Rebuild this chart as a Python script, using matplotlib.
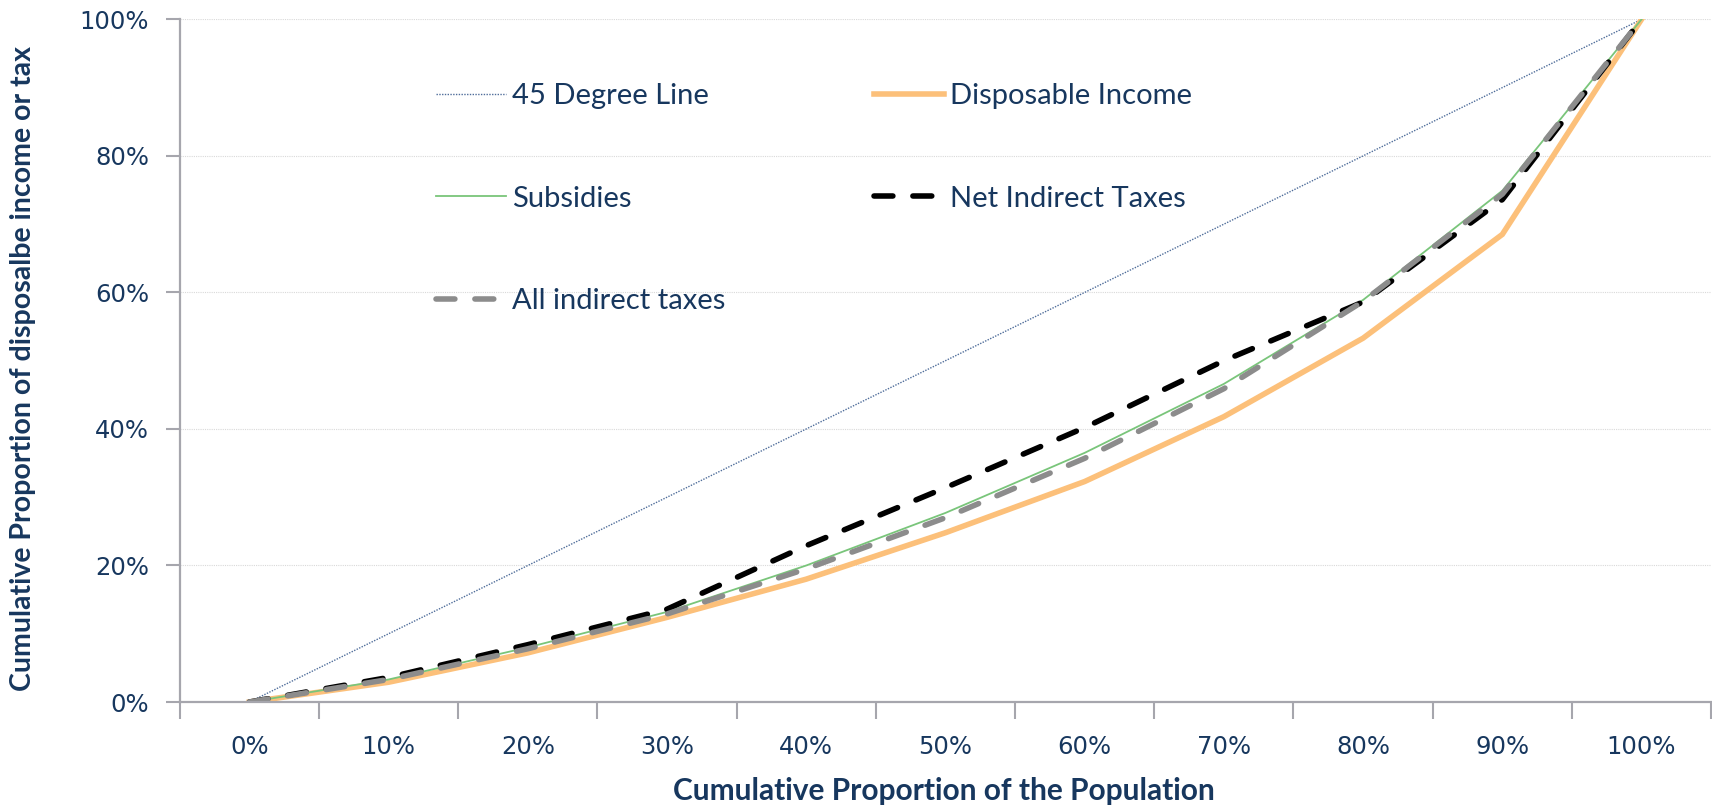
import matplotlib
matplotlib.use("Agg")
import matplotlib.pyplot as plt
import numpy as np

categories = ["0%", "10%", "20%", "30%", "40%", "50%", "60%", "70%", "80%", "90%", "100%"]
degree45 = [0, 10, 20, 30, 40, 50, 60, 70, 80, 90, 100]
disposable_income = [0, 2.9, 7.2, 12.4, 18.0, 24.8, 32.3, 41.8, 53.3, 68.5, 100]
subsidies = [0, 3.3, 8.0, 13.2, 20.0, 27.7, 36.5, 46.6, 58.9, 74.9, 100]
net_indirect = [0, 3.6, 8.4, 13.6, 22.9, 31.4, 40.2, 50.0, 58.6, 73.6, 100]
all_indirect = [0, 3.3, 7.8, 12.9, 19.5, 27.0, 35.7, 45.9, 58.7, 74.4, 100]
y_ticks = [0, 20, 40, 60, 80, 100]
y_ticklabels = ["0%", "20%", "40%", "60%", "80%", "100%"]

navy = "#17375E"
spine_c = "#A6A6AD"

fig = plt.figure(figsize=(17.12, 8.06), dpi=100)
ax = fig.add_axes([0.105, 0.129, 0.8945, 0.847])

x = np.arange(len(categories))
l45, = ax.plot(x, degree45, color="#4F6D9A", lw=1.0, ls=(0, (1, 1)), label="45 Degree Line")
ldi, = ax.plot(x, disposable_income, color="#FCC07A", lw=4.0, solid_joinstyle="miter",
               label="Disposable Income")
lsu, = ax.plot(x, subsidies, color="#79C57A", lw=1.3, label="Subsidies")
lni, = ax.plot(x, net_indirect, color="black", lw=4.0, dashes=(3.4, 3.6),
               dash_capstyle="round", label="Net Indirect Taxes")
lai, = ax.plot(x, all_indirect, color="#8C8C8C", lw=4.0, dashes=(3.4, 3.6),
               dash_capstyle="round", label="All indirect taxes")

ax.set_xlim(-0.5, len(categories) - 0.5)
ax.set_ylim(0, 100)
ax.set_yticks(y_ticks)
ax.set_yticklabels(y_ticklabels)
ax.set_xticks(x)
ax.set_xticklabels(categories)
ax.set_xticks(np.arange(-0.5, len(categories), 1.0), minor=True)
ax.tick_params(axis="x", which="major", length=0, pad=24, labelsize=17.5, labelcolor=navy)
ax.tick_params(axis="x", which="minor", length=12, width=1.5, color=spine_c, direction="out")
ax.tick_params(axis="y", which="major", length=10, width=1.5, color=spine_c,
               labelsize=17.5, labelcolor=navy, pad=12)
for lab in ax.get_xticklabels() + ax.get_yticklabels():
    lab.set_fontfamily("DejaVu Sans")

for s in ["top", "right"]:
    ax.spines[s].set_visible(False)
for s in ["left", "bottom"]:
    ax.spines[s].set_color(spine_c)
    ax.spines[s].set_linewidth(1.6)

ax.yaxis.grid(True, color="#D9D9D9", lw=0.8, ls=(0, (1, 1)))
ax.set_axisbelow(True)

ax.set_xlabel("Cumulative Proportion of the Population", fontfamily="Lato",
              fontweight="bold", fontsize=21.5, color=navy)
ax.set_ylabel("Cumulative Proportion of disposalbe income or tax", fontfamily="Lato",
              fontweight="bold", fontsize=20.5, color=navy)
ax.xaxis.set_label_coords(0.499, -0.11)
ax.yaxis.set_label_coords(-0.094, 0.488)

leg = ax.legend(handles=[l45, lsu, lai, ldi, lni], ncol=2, loc="upper left",
                bbox_to_anchor=(0.15, 0.945), frameon=False,
                prop={"family": "Lato", "size": 21}, labelcolor=navy,
                handlelength=2.4, handletextpad=0.2, columnspacing=5.1,
                labelspacing=2.62)

fig.savefig("out.png", dpi=100)
